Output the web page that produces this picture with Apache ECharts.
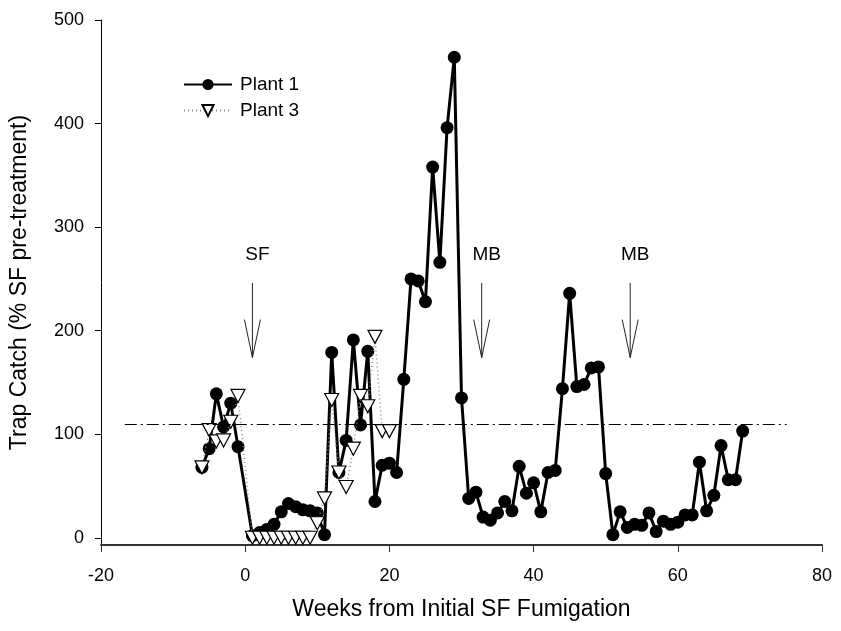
<!DOCTYPE html>
<html>
<head>
<meta charset="utf-8">
<script src="https://cdn.jsdelivr.net/npm/echarts@6/dist/echarts.min.js"></script>
<style>
  html, body { margin: 0; padding: 0; background: #fff; }
  #chart { width: 841px; height: 631px; }
</style>
</head>
<body>
<div id="chart"></div>
<script>
// weeks from initial SF fumigation
const weeks1 = [-6, -5, -4, -3, -2, -1,
  1, 2, 3, 4, 5, 6, 7, 8, 9, 10, 11, 12, 13, 14, 15, 16, 17, 18, 19, 20,
  21, 22, 23, 24, 25, 26, 27, 28, 29, 30, 31, 32, 33, 34, 35, 36, 37, 38, 39, 40,
  41, 42, 43, 44, 45, 46, 47, 48, 49, 50, 51, 52, 53, 54, 55, 56, 57, 58, 59, 60,
  61, 62, 63, 64, 65, 66, 67, 68, 69];
const plant1 = [68, 86, 139, 107, 130, 88,
  2, 5, 8, 13, 25, 33, 30, 27, 26, 24, 3, 179, 63, 94, 191, 109, 180, 35, 70, 72,
  63, 153, 250, 248, 228, 358, 266, 396, 464, 135, 38, 44, 20, 17, 24, 35, 26, 69, 43, 53,
  25, 63, 65, 144, 236, 146, 148, 164, 165, 62, 3, 25, 10, 13, 12, 24, 6, 16, 13, 15,
  22, 22, 73, 26, 41, 89, 56, 56, 103];

const weeks3 = [-6, -5, -4, -3, -2, -1,
  1, 2, 3, 4, 5, 6, 7, 8, 9, 10, 11, 12, 13, 14, 15, 16, 17, 18, 19, 20];
const plant3 = [68, 104, 93, 94, 112, 137,
  0, 0, 0, 0, 0, 0, 0, 0, 0, 14, 38, 133, 63, 49, 86, 137, 127, 194, 103, 103];

// pre-treatment reference level
const refLevel = 109.5;
const refStart = -16.7;
const refEnd = 75.1;

// treatment arrows: week, top value, tip value
const arrowWeeks = [1.0, 32.8, 53.4];
const arrowTop = [246, 246, 246];
const arrowTip = [174, 174, 174];
const arrowLabels = ['SF', 'MB', 'MB'];

const yTicks = [0, 100, 200, 300, 400, 500];

const zip = (xs, ys) => xs.map((x, i) => [x, ys[i]]);

const chart = echarts.init(document.getElementById('chart'));

const font = 'Liberation Sans, Arial, sans-serif';
const triDown = 'path://M0,0L20,0L10,18Z';

const option = {
  animation: false,
  backgroundColor: '#fff',
  textStyle: { fontFamily: font },
  grid: { left: 101, right: 19, top: 20, bottom: 86 },
  legend: {
    data: ['Plant 1', 'Plant 3'],
    orient: 'vertical',
    left: 178,
    top: 70,
    itemWidth: 48,
    itemHeight: 14,
    itemGap: 7,
    textStyle: { fontSize: 19, color: '#000', fontFamily: font, padding: [0, 0, 0, 3] }
  },
  xAxis: {
    type: 'value',
    min: -20,
    max: 80,
    interval: 20,
    name: 'Weeks from Initial SF Fumigation',
    nameLocation: 'middle',
    nameGap: 53,
    nameTextStyle: { fontSize: 23, color: '#000', fontFamily: font },
    axisLine: { onZero: false, lineStyle: { color: '#333', width: 2 } },
    axisTick: { length: 7, lineStyle: { color: '#333', width: 1 } },
    axisLabel: { fontSize: 18, color: '#000', margin: 22, fontFamily: font },
    splitLine: { show: false }
  },
  yAxis: {
    type: 'value',
    min: -7,
    max: 500,
    name: 'Trap Catch (% SF pre-treatment)',
    nameLocation: 'middle',
    nameGap: 70,
    nameTextStyle: { fontSize: 23, color: '#000', fontFamily: font },
    axisLine: { show: true, onZero: false, lineStyle: { color: '#000', width: 1 } },
    axisTick: { show: true, length: 6, customValues: yTicks, lineStyle: { color: '#000' } },
    axisLabel: { fontSize: 18, color: '#000', margin: 17, customValues: yTicks, fontFamily: font },
    splitLine: { show: false }
  },
  series: [
    {
      name: 'Plant 1',
      type: 'line',
      data: zip(weeks1, plant1),
      symbol: 'circle',
      symbolSize: 13,
      itemStyle: { color: '#000' },
      lineStyle: { color: '#000', width: 3 },
      z: 2,
      markLine: {
        silent: true,
        symbol: 'none',
        label: { show: false },
        lineStyle: { color: '#000', width: 1, type: [12, 4, 2, 4] },
        data: [[{ coord: [refStart, refLevel] }, { coord: [refEnd, refLevel] }]]
      }
    },
    {
      name: 'Plant 3',
      type: 'line',
      data: zip(weeks3, plant3),
      symbol: triDown,
      symbolSize: [14, 13],
      itemStyle: { color: '#fff', borderColor: '#000', borderWidth: 1.2 },
      lineStyle: { color: '#888', width: 1.5, type: [1, 3] },
      z: 3
    },
    {
      name: 'arrows',
      type: 'custom',
      data: arrowWeeks.map((w, i) => [w, arrowTop[i], arrowTip[i]]),
      renderItem: (params, api) => {
        const top = api.coord([api.value(0), api.value(1)]);
        const tip = api.coord([api.value(0), api.value(2)]);
        return {
          type: 'group',
          children: [
            { type: 'line', shape: { x1: top[0], y1: top[1], x2: tip[0], y2: tip[1] },
              style: { stroke: '#222', lineWidth: 1 } },
            { type: 'polyline', shape: { points: [[tip[0] - 8, tip[1] - 38], [tip[0], tip[1]], [tip[0] + 8, tip[1] - 38]] },
              style: { stroke: '#222', fill: null, lineWidth: 1 } },
            { type: 'text', style: { text: arrowLabels[params.dataIndex], x: top[0] + 5, y: top[1] - 28,
              align: 'center', verticalAlign: 'middle', fontSize: 19, fontFamily: font, fill: '#000' } }
          ]
        };
      },
      z: 1
    }
  ]
};

chart.setOption(option);
</script>
</body>
</html>
